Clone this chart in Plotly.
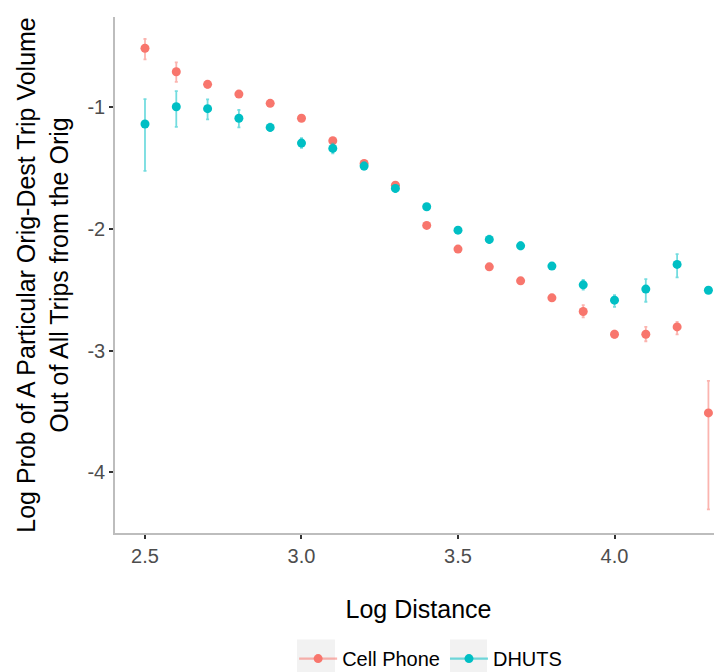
import plotly.graph_objects as go

log_distance = [2.5, 2.6, 2.7, 2.8, 2.9, 3.0, 3.1, 3.2, 3.3, 3.4, 3.5, 3.6, 3.7, 3.8, 3.9, 4.0, 4.1, 4.2, 4.3]

cell_mean = [-0.514, -0.707, -0.811, -0.891, -0.967, -1.090, -1.275, -1.461, -1.640, -1.971,
             -2.166, -2.312, -2.427, -2.567, -2.679, -2.866, -2.866, -2.806, -3.513]
cell_upper = [-0.438, -0.630, -0.785, -0.872, -0.950, -1.075, -1.262, -1.448, -1.625, -1.960,
              -2.155, -2.298, -2.412, -2.552, -2.627, -2.836, -2.806, -2.765, -3.250]
cell_lower = [-0.605, -0.790, -0.840, -0.910, -0.985, -1.105, -1.290, -1.475, -1.655, -1.982,
              -2.177, -2.326, -2.442, -2.582, -2.728, -2.896, -2.924, -2.868, -4.306]

dhuts_mean = [-1.137, -0.995, -1.011, -1.090, -1.165, -1.294, -1.338, -1.483, -1.667, -1.818,
              -2.010, -2.086, -2.139, -2.306, -2.460, -2.586, -2.495, -2.292, -2.504]
dhuts_upper = [-0.932, -0.866, -0.934, -1.022, -1.135, -1.254, -1.298, -1.453, -1.640, -1.800,
               -1.995, -2.056, -2.109, -2.290, -2.420, -2.545, -2.413, -2.207, -2.484]
dhuts_lower = [-1.522, -1.160, -1.099, -1.165, -1.195, -1.334, -1.378, -1.513, -1.697, -1.836,
               -2.025, -2.116, -2.169, -2.322, -2.500, -2.641, -2.599, -2.399, -2.524]

x_ticks = [2.5, 3.0, 3.5, 4.0]
x_tick_labels = ["2.5", "3.0", "3.5", "4.0"]
y_ticks = [-1, -2, -3, -4]
y_tick_labels = ["-1", "-2", "-3", "-4"]

RED = "#F8766D"
CYAN = "#00BFC4"


def err(mean, upper, lower):
    plus = [u - m for u, m in zip(upper, mean)]
    minus = [m - l for m, l in zip(mean, lower)]
    return plus, minus


fig = go.Figure()

for name, mean, up, lo, col, ecol in [
    ("Cell Phone", cell_mean, cell_upper, cell_lower, RED, "rgba(248,118,109,0.55)"),
    ("DHUTS", dhuts_mean, dhuts_upper, dhuts_lower, CYAN, "rgba(0,191,196,0.55)"),
]:
    p, m = err(mean, up, lo)
    fig.add_trace(go.Scatter(
        x=log_distance, y=mean, mode="markers", name=name, showlegend=False,
        marker=dict(color=col, size=9),
        error_y=dict(type="data", symmetric=False, array=p, arrayminus=m,
                     color=ecol, thickness=1.8, width=1.5),
    ))
    fig.add_trace(go.Scatter(
        x=[None], y=[None], mode="lines+markers", name=name,
        marker=dict(color=col, size=9),
        line=dict(color=ecol, width=2.2),
    ))

# grey legend key backgrounds (ggplot theme style)
for x0, x1 in [(0.2998, 0.3624), (0.5519, 0.6129)]:
    fig.add_shape(type="rect", xref="paper", yref="paper", x0=x0, x1=x1,
                  y0=-0.2704, y1=-0.2064, fillcolor="#F2F2F2", line=dict(width=0),
                  layer="below")

fig.update_layout(
    width=714, height=664,
    paper_bgcolor="white", plot_bgcolor="white",
    margin=dict(l=107, r=0, t=9, b=139.3, autoexpand=False),
    font=dict(family="Liberation Sans, Arial, sans-serif", color="black"),
    showlegend=True,
    legend=dict(orientation="h", x=0.52, xanchor="center", y=-0.2434, yanchor="middle",
                font=dict(size=20, color="black"), itemwidth=38, tracegroupgap=0,
                bgcolor="rgba(0,0,0,0)"),
    xaxis=dict(
        range=[2.4042, 4.3434], tickvals=x_ticks, ticktext=x_tick_labels,
        showgrid=False, zeroline=False, automargin=False,
        showline=True, linecolor="#BDBDBD", linewidth=1.5,
        ticks="outside", ticklen=4, tickcolor="#333333", tickwidth=1.5,
        tickfont=dict(size=20, color="#4D4D4D"),
        title=dict(text="Log Distance", font=dict(size=25, color="black"), standoff=35),
    ),
    yaxis=dict(
        range=[-4.501, -0.257], tickvals=y_ticks, ticktext=y_tick_labels,
        showgrid=False, zeroline=False, automargin=False,
        showline=True, linecolor="#BDBDBD", linewidth=1.5,
        ticks="outside", ticklen=4, tickcolor="#333333", tickwidth=1.5,
        tickfont=dict(size=20, color="#4D4D4D"),
        title=dict(text="Log Prob of A Particular Orig-Dest Trip Volume<br>Out of All Trips from the Orig",
                   font=dict(size=25, color="black"), standoff=12),
    ),
)

fig.write_html("out.html")
